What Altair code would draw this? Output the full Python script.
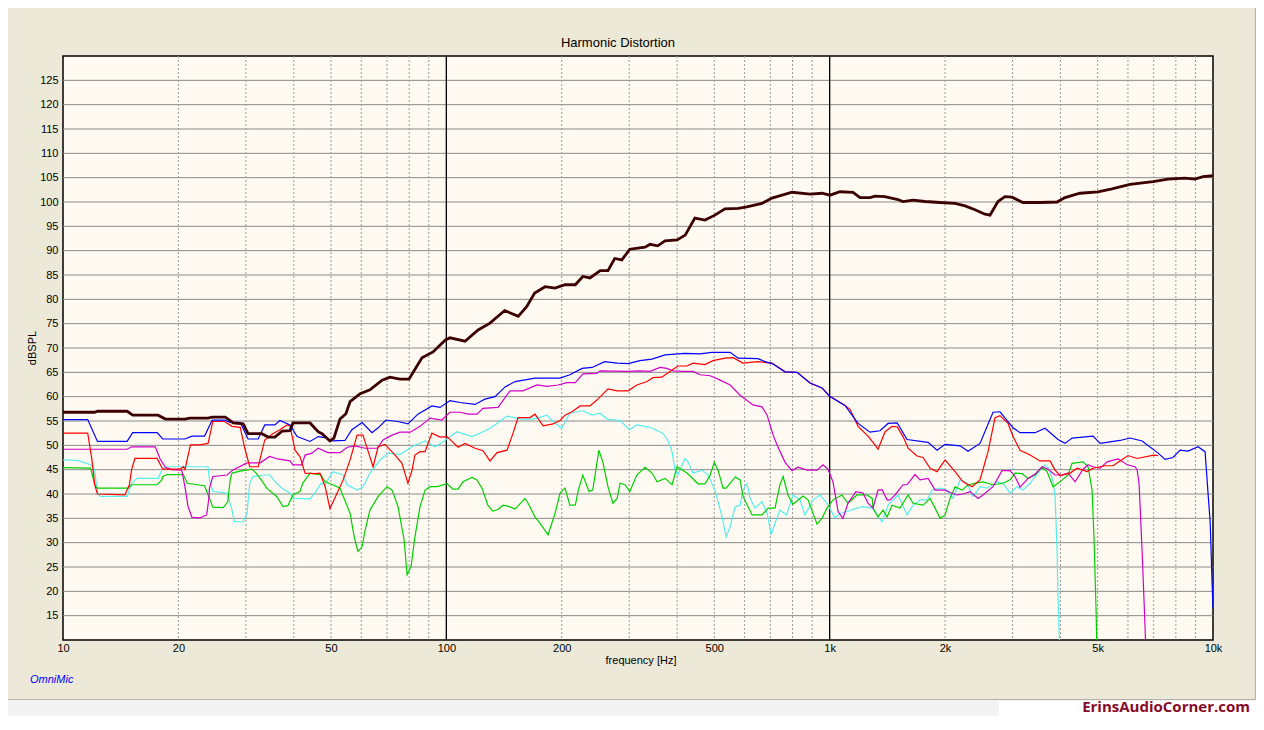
import altair as alt
import pandas as pd

# ---------------- data (frequency Hz, level dB SPL) ----------------
main_pts = [(10, 56.8), (12.1, 56.8), (12.3, 57.0), (14.7, 57.0), (15.2, 56.2), (17.7, 56.2), (18.5, 55.4),
            (20.8, 55.4), (21.4, 55.6), (23.9, 55.6), (24.5, 55.8), (26.5, 55.8), (27.8, 54.6), (29.5, 54.4),
            (30.4, 52.4), (33.0, 52.4), (34.3, 51.7), (35.7, 51.7), (37.3, 52.9), (39.1, 53.0), (39.8, 54.6),
            (44.1, 54.6), (46.3, 52.8), (47.4, 52.4), (49.7, 50.9), (50.9, 51.5), (52.8, 55.4), (54.7, 56.5),
            (56.1, 59.0), (59.6, 60.6), (63.2, 61.4), (68.0, 63.4), (71.3, 64.0), (75.7, 63.6), (79.9, 63.6),
            (86.4, 68.0), (92.3, 69.2), (99.3, 71.6), (102.2, 72.1), (111.9, 71.4), (121, 73.7), (130, 75.1),
            (142, 77.7), (154, 76.5), (162, 78.5), (170, 81.3), (181, 82.6), (192, 82.3), (204, 83.0),
            (217, 83.0), (227, 84.7), (237, 84.4), (252, 85.9), (264, 85.9), (275, 88.4), (287, 88.1),
            (301, 90.3), (330, 90.7), (340, 91.3), (356, 91.0), (372, 92.0), (400, 92.2), (420, 93.2),
            (445, 96.7), (473, 96.3), (502, 97.3), (533, 98.6), (577, 98.7), (608, 99.0), (666, 99.7),
            (707, 100.8), (798, 102.0), (889, 101.6), (955, 101.8), (1002, 101.4), (1064, 102.1), (1151, 102.0),
            (1200, 100.9), (1274, 100.9), (1313, 101.2), (1393, 101.1), (1507, 100.5), (1553, 100.1),
            (1650, 100.4), (1773, 100.1), (1941, 99.9), (2124, 99.7), (2255, 99.2), (2394, 98.4), (2542, 97.5),
            (2620, 97.3), (2748, 100.1), (2866, 101.1), (2990, 101.0), (3192, 99.9), (3536, 99.9), (3917, 100.0),
            (4110, 100.9), (4497, 101.8), (5012, 102.1), (5451, 102.7), (6075, 103.6), (6976, 104.2),
            (7632, 104.7), (8452, 104.9), (8974, 104.7), (9419, 105.2), (10000, 105.4)]

blue_pts = [(10, 55.3), (11.6, 55.3), (12.3, 50.8), (14.7, 50.8), (15.2, 52.6), (17.6, 52.6), (18.2, 51.3),
            (20.8, 51.3), (21.7, 51.9), (23.4, 51.9), (24.5, 55.2), (26.4, 55.2), (27.3, 54.7), (29.0, 54.7),
            (30.4, 51.3), (32.3, 51.3), (33.6, 54.2), (35.7, 54.2), (36.8, 55.1), (39.1, 54.2), (40.8, 51.8),
            (44.1, 50.8), (46.3, 51.8), (48.3, 51.6), (50.6, 50.9), (54.4, 51.0), (56.7, 53.2), (60.3, 54.7),
            (64.0, 52.6), (66.4, 53.6), (69.6, 55.2), (74.8, 54.9), (79.4, 54.4), (84.3, 56.4), (91.7, 58.1),
            (96.3, 57.8), (102.2, 59.2), (108.6, 58.8), (118.8, 58.4), (126.1, 59.5), (134, 60.0), (142.3, 62.0),
            (151.1, 63.1), (170.3, 63.8), (198, 63.8), (210, 64.5), (226, 65.8), (240, 66.0), (259, 67.2),
            (279, 66.9), (298, 66.8), (320, 67.4), (344, 67.7), (372, 68.6), (419, 68.9), (459, 68.8),
            (493, 69.1), (550, 69.1), (577, 67.9), (650, 67.8), (678, 67.2), (707.6, 66.8), (765, 65.1),
            (822, 65.0), (889, 62.8), (955, 61.8), (1000, 60.1), (1096, 58.2), (1186, 54.5), (1274, 52.7),
            (1353, 53.0), (1420, 54.5), (1500, 54.6), (1592, 51.2), (1806, 50.6), (1906, 49.0), (2000, 50.2),
            (2189, 49.9), (2296, 48.8), (2467, 50.4), (2668, 56.8), (2782, 56.9), (3009, 53.6), (3138, 52.6),
            (3434, 52.6), (3646, 53.5), (3942, 51.2), (4112, 50.4), (4289, 51.5), (4866, 51.9), (5076, 50.4),
            (5721, 51.0), (6076, 51.5), (6533, 50.9), (7192, 48.4), (7497, 47.1), (7866, 47.5), (8205, 49.0),
            (8609, 48.8), (9142, 49.7), (9535, 48.7), (9708, 40.1), (9835, 34.0), (9940, 22.3), (10000, 16.6)]

red_pts = [(10, 52.5), (11.6, 52.5), (11.9, 47.0), (12.1, 41.9), (12.3, 40.0), (14.5, 39.8), (14.9, 41.9),
           (15.1, 45.0), (15.4, 47.3), (17.6, 47.3), (18.2, 45.1), (20.2, 45.1), (20.6, 45.6), (20.8, 45.0),
           (21.5, 50.1), (22.8, 50.1), (23.9, 50.4), (24.6, 54.9), (26.4, 54.9), (27.6, 53.9), (29.0, 53.7),
           (29.8, 49.4), (30.7, 45.6), (32.3, 45.6), (33.6, 51.1), (35.1, 52.3), (36.8, 53.2), (38.4, 54.2),
           (39.1, 54.0), (40.3, 49.0), (41.5, 47.7), (42.8, 44.3), (45.4, 44.2), (46.8, 44.3), (48.3, 41.5),
           (49.7, 37.0), (51.9, 40.2), (53.8, 42.9), (56.1, 47.0), (58.5, 52.1), (60.6, 52.1), (62.5, 48.8),
           (64.4, 45.6), (66.4, 49.7), (69.2, 50.2), (73.5, 48.0), (76.6, 46.3), (79.4, 42.2), (81.4, 44.9),
           (82.8, 48.0), (85.4, 48.7), (88.0, 48.7), (91.7, 52.5), (96.3, 51.7), (100.4, 51.8), (103.5, 50.8),
           (107.3, 49.6), (111.9, 50.4), (118.8, 49.4), (124.6, 48.9), (130, 46.8), (135.6, 48.5), (144, 49.0),
           (149.3, 52.5), (153.8, 55.7), (165.3, 55.7), (170.3, 56.4), (178.8, 54.0), (189.8, 54.4), (198, 55.1),
           (204, 56.2), (212.8, 56.9), (223.3, 58.1), (237, 58.1), (247, 59.3), (264, 61.6), (279, 61.2),
           (298, 61.2), (314, 62.4), (334, 63.1), (346, 63.9), (365, 64.0), (388, 65.5), (402, 66.3),
           (424.5, 66.3), (440, 66.9), (473, 66.6), (496, 67.4), (533.5, 67.9), (560, 68.0), (594, 66.9),
           (650, 67.2), (707.6, 66.9), (765, 65.1), (822, 65.0), (889, 62.8), (955, 61.8), (1000, 60.1),
           (1096, 58.2), (1130, 57.4), (1186, 53.9), (1259, 51.9), (1313, 50.1), (1337, 49.2), (1395, 52.8),
           (1455, 53.9), (1500, 53.8), (1554, 51.8), (1602, 49.4), (1690, 47.8), (1753, 47.5), (1828, 45.3),
           (1906, 44.6), (2000, 47.0), (2124, 44.6), (2228, 42.5), (2351, 41.5), (2467, 42.9), (2589, 48.7),
           (2700, 55.7), (2782, 56.1), (2920, 54.5), (3009, 51.8), (3138, 49.0), (3333, 48.0), (3538, 46.8),
           (3758, 46.8), (3872, 44.9), (3990, 43.8), (4238, 44.3), (4420, 45.3), (4695, 44.6), (4866, 45.3),
           (5230, 45.8), (5488, 45.8), (5721, 46.8), (6000, 47.9), (6337, 47.3), (7000, 48.0), (7192, 47.9)]

magenta_pts = [(10, 49.2), (14.7, 49.2), (15.1, 49.7), (17.4, 49.7), (17.9, 47.3), (18.5, 45.5), (19.2, 45.0),
               (20.4, 44.9), (20.8, 41.5), (21.2, 37.4), (21.7, 35.2), (22.8, 35.1), (23.7, 35.7), (24.0, 38.9),
               (24.1, 41.2), (24.6, 43.6), (26.8, 43.9), (27.7, 44.9), (30.2, 46.4), (32.7, 46.4), (34.6, 47.7),
               (36.3, 47.2), (39.1, 46.8), (39.8, 46.0), (42.0, 46.0), (42.8, 48.0), (44.6, 48.4), (46.3, 49.4),
               (49.1, 48.5), (52.8, 48.5), (55.2, 49.6), (57.8, 49.9), (61.4, 49.4), (66.0, 49.4), (68.4, 51.1),
               (72.2, 52.1), (75.7, 52.7), (80.5, 52.7), (85.4, 53.9), (90.7, 55.6), (97.4, 55.2), (102.2, 56.8),
               (108.6, 56.8), (114, 56.4), (120.2, 56.4), (124.6, 57.6), (136.4, 57.8), (146.6, 61.2),
               (158.5, 61.2), (172.4, 62.4), (183.1, 62.1), (195.6, 62.4), (206.5, 62.9), (217, 62.9),
               (227.3, 64.7), (247, 64.8), (252, 65.3), (296, 65.2), (320, 65.3), (340, 65.2), (361, 66.0),
               (376, 65.8), (390, 65.3), (414.5, 65.2), (440, 65.2), (459, 64.5), (488, 64.3), (518, 63.4),
               (550, 62.4), (584, 60.3), (631, 58.3), (666, 57.9), (687, 56.2), (712, 52.1), (729.6, 50.0),
               (765, 46.5), (797.6, 44.8), (827, 45.5), (873, 44.9), (927, 44.9), (960.5, 46.0), (990, 45.1),
               (1020, 42.5), (1052, 36.4), (1083, 35.0), (1116, 38.1), (1171, 40.5), (1222, 40.2), (1259, 38.1),
               (1297, 37.1), (1337, 40.8), (1370, 40.9), (1412, 38.8), (1437, 38.8), (1481, 39.8), (1554, 41.9),
               (1592, 41.9), (1670, 44.0), (1721, 42.9), (1806, 43.2), (1884, 40.8), (2000, 40.8), (2061, 40.3),
               (2150, 39.8), (2228, 40.0), (2324, 40.5), (2438, 39.1), (2512, 39.8), (2668, 41.5), (2816, 44.8),
               (2955, 44.8), (3045, 43.6), (3138, 41.4), (3293, 43.2), (3434, 44.1), (3582, 45.6), (3713, 45.1),
               (3872, 43.9), (4039, 43.9), (4187, 44.3), (4367, 42.5), (4582, 45.1), (4722, 46.0), (4866, 45.6),
               (5076, 45.3), (5295, 46.6), (5656, 47.2), (5826, 46.6), (5970, 46.0), (6262, 45.6), (6338, 45.0),
               (6414, 42.2), (6533, 28.2), (6651, 12.4), (6692, 6.0)]

cyan_pts = [(10, 47.0), (10.9, 46.9), (11.8, 46.0), (12.1, 45.0), (12.3, 40.2), (12.5, 39.5), (14.7, 39.5),
            (15.1, 42.2), (15.6, 43.2), (17.7, 43.2), (18.2, 45.3), (18.8, 45.6), (23.9, 45.6), (24.1, 43.0),
            (24.6, 40.5), (26.8, 40.2), (27.6, 36.7), (28.0, 34.3), (29.5, 34.3), (30.2, 36.0), (30.7, 42.2),
            (31.3, 43.6), (33.3, 43.9), (34.6, 43.9), (36.1, 42.2), (37.5, 41.0), (39.1, 40.2), (39.8, 39.1),
            (44.1, 39.0), (45.4, 40.2), (47.1, 42.2), (48.3, 42.0), (50.6, 44.6), (53.8, 43.9), (55.1, 41.9),
            (58.5, 40.8), (60.6, 41.5), (63.2, 44.3), (67.2, 47.0), (70.5, 48.4), (75.7, 48.1), (81.4, 49.7),
            (88.0, 50.9), (93.4, 49.7), (98.0, 50.7), (106.6, 52.8), (116.7, 51.8), (122.4, 52.5), (130, 53.5),
            (138, 54.9), (144, 56.0), (157.5, 55.4), (168.7, 55.4), (183.1, 56.2), (189.8, 54.9), (200, 53.5),
            (210, 56.6), (227, 57.1), (240, 56.2), (252, 56.6), (262.5, 55.4), (284, 55.1), (301, 53.2),
            (314, 54.2), (340, 53.7), (367, 52.5), (378, 51.1), (388, 48.7), (395, 44.9), (402, 43.9),
            (419, 47.3), (427, 46.6), (440, 44.3), (464.5, 44.9), (482, 43.9), (502, 40.8), (524, 35.3),
            (537, 31.2), (550, 33.3), (567, 37.4), (584, 37.7), (594, 40.8), (609, 42.2), (620, 39.1),
            (639, 37.1), (666, 38.4), (687, 36.0), (704, 31.6), (720, 34.0), (742, 36.7), (772, 35.7),
            (802, 39.8), (836.8, 38.8), (862, 35.7), (905, 38.8), (944, 39.8), (984, 38.1), (1032, 35.1),
            (1064, 36.0), (1110, 36.4), (1178, 37.1), (1222, 37.4), (1292, 37.1), (1370, 34.3), (1420, 37.7),
            (1508, 39.8), (1592, 35.7), (1650, 37.7), (1721, 38.8), (1796, 38.8), (1851, 40.8), (1941, 41.2),
            (2024, 40.8), (2098, 39.1), (2189, 42.9), (2282, 42.2), (2367, 39.5), (2467, 41.5), (2574, 41.2),
            (2733, 42.5), (2833, 42.2), (2955, 40.2), (3082, 41.5), (3192, 40.8), (3333, 42.2), (3538, 44.9),
            (3646, 46.0), (3758, 44.9), (3827, 42.5), (3872, 39.5), (3917, 29.2), (3941, 19.6), (3990, 6.0)]

green_pts = [(10, 45.4), (11.8, 45.3), (12.1, 41.9), (12.3, 41.2), (14.8, 41.2), (15.1, 41.9), (17.6, 41.9),
             (18.1, 42.9), (18.2, 43.6), (18.7, 44.0), (20.6, 44.0), (21.1, 42.2), (22.4, 41.9), (23.4, 41.7),
             (24.0, 39.5), (24.6, 37.3), (26.2, 37.2), (26.9, 38.4), (27.3, 42.9), (27.6, 44.3), (29.0, 44.7),
             (31.1, 45.1), (31.9, 44.3), (32.9, 42.9), (34.0, 41.2), (36.1, 39.5), (37.5, 37.4), (38.6, 37.6),
             (39.8, 39.8), (41.5, 40.5), (42.2, 42.2), (44.1, 44.3), (47.1, 43.9), (48.3, 42.5), (50.6, 41.9),
             (52.8, 41.2), (56.1, 36.0), (57.5, 31.2), (58.8, 28.2), (60.3, 29.2), (61.4, 32.6), (63.2, 36.7),
             (66.4, 39.5), (70.0, 41.5), (72.2, 40.8), (74.8, 37.4), (77.6, 30.6), (79.0, 23.4), (80.9, 25.1),
             (82.8, 31.2), (85.4, 37.4), (88.0, 40.8), (90.7, 41.5), (94.6, 41.5), (100.4, 42.1), (104.1, 41.0),
             (107.3, 41.0), (110.5, 42.5), (116.7, 43.4), (120.2, 42.9), (123.9, 41.2), (128.3, 37.7),
             (132.1, 36.5), (136.4, 36.8), (140.6, 37.7), (144.9, 37.5), (151.1, 36.9), (160.4, 39.1),
             (163.4, 38.1), (170.3, 35.3), (175.5, 34.0), (184.2, 31.6), (192.1, 36.0), (198, 40.2), (204, 41.2),
             (210, 37.7), (217, 37.7), (221, 40.8), (227, 43.9), (235.6, 40.5), (241, 40.8), (250, 49.0),
             (256, 46.6), (264, 41.5), (272, 38.1), (279, 39.1), (284, 42.2), (292.6, 41.9), (301, 40.5),
             (314, 43.9), (330, 45.5), (344, 44.3), (354.6, 42.5), (372, 43.2), (388, 41.9), (400, 45.6),
             (424.5, 44.3), (453.5, 42.1), (473, 42.1), (488, 43.9), (500, 46.5), (511.6, 44.9), (527, 41.2),
             (537, 41.2), (567, 43.5), (584, 42.9), (594, 39.5), (627.6, 35.7), (666, 35.7), (691, 37.1),
             (720, 37.1), (742, 41.9), (756, 43.6), (778.6, 39.8), (802, 37.9), (851.8, 39.6), (878, 38.8),
             (927, 33.8), (955, 35.0), (984, 37.1), (1020, 38.8), (1077, 39.8), (1116, 38.1), (1178, 39.8),
             (1251, 39.8), (1292, 39.1), (1297, 37.1), (1337, 35.3), (1378, 36.7), (1412, 35.3), (1455, 37.7),
             (1526, 37.1), (1602, 39.8), (1650, 38.1), (1753, 37.7), (1828, 39.1), (1884, 37.1), (1941, 35.0),
             (2000, 35.7), (2061, 39.1), (2124, 41.5), (2215, 40.8), (2296, 41.9), (2394, 42.2), (2512, 42.5),
             (2668, 41.9), (2833, 42.2), (2955, 42.9), (3045, 44.3), (3176, 44.2), (3293, 43.2), (3434, 43.9),
             (3582, 45.5), (3690, 44.6), (3827, 41.5), (3990, 42.5), (4187, 43.9), (4289, 46.3), (4582, 46.6),
             (4722, 45.6), (4837, 40.8), (4895, 30.6), (4954, 16.2), (4984, 6.0)]

series_names = ["2nd harmonic", "3rd harmonic", "4th harmonic", "5th harmonic", "6th harmonic", "Fundamental"]
series_pts = [blue_pts, red_pts, magenta_pts, green_pts, cyan_pts, main_pts]
series_colors = ["#0000FF", "#FF0000", "#D000C8", "#00D000", "#55EEEE", "#3C0000"]
draw_order = [4, 3, 2, 1, 0, 5]  # cyan, green, magenta, red, blue, fundamental on top

x_tick_values = [10, 20, 50, 100, 200, 500, 1000, 2000, 5000, 10000]
y_tick_values = [15, 20, 25, 30, 35, 40, 45, 50, 55, 60, 65, 70, 75, 80, 85, 90, 95, 100, 105, 110, 115, 120, 125]
minor_freqs = [20, 30, 40, 50, 60, 70, 80, 90, 200, 300, 400, 500, 600, 700, 800, 900,
               2000, 3000, 4000, 5000, 6000, 7000, 8000, 9000]
major_freqs = [100, 1000]

FONT = "Liberation Sans"

# ---------------- scales / axes ----------------
xscale = alt.Scale(type="log", domain=[10, 10000], nice=False)
yscale = alt.Scale(domain=[10, 130], nice=False, zero=False)
xaxis = alt.Axis(values=x_tick_values, title=None, grid=False, ticks=False, domain=False,
                 labelExpr="datum.value >= 1000 ? (datum.value / 1000) + 'k' : '' + datum.value",
                 labelFont=FONT, labelFontSize=11, labelColor="#000000", labelPadding=2,
                 labelFlush=False, labelOverlap=False)
yaxis = alt.Axis(values=y_tick_values, title=None, grid=False, ticks=False, domain=False,
                 labelFont=FONT, labelFontSize=11, labelColor="#000000", labelPadding=5)

X = alt.X("freq:Q", scale=xscale, axis=xaxis)
Y = alt.Y("db:Q", scale=yscale, axis=yaxis)

# ---------------- grid ----------------
hgrid = alt.Chart(pd.DataFrame({"db": y_tick_values})).mark_rule(
    color="#8A8A8A", strokeWidth=1).encode(y=Y)
vminor = alt.Chart(pd.DataFrame({"freq": minor_freqs})).mark_rule(
    color="#9A9A9A", strokeWidth=1, strokeDash=[2, 2]).encode(x=X)
vmajor = alt.Chart(pd.DataFrame({"freq": major_freqs})).mark_rule(
    color="#000000", strokeWidth=1.3).encode(x=X)

layers = [hgrid, vminor, vmajor]

# ---------------- curves ----------------
for i in draw_order:
    pts = series_pts[i]
    df = pd.DataFrame({"freq": [p[0] for p in pts], "db": [p[1] for p in pts],
                       "idx": list(range(len(pts))), "series": series_names[i]})
    width = 2.8 if series_names[i] == "Fundamental" else 1.2
    layers.append(alt.Chart(df).mark_line(color=series_colors[i], strokeWidth=width, clip=True,
                                          interpolate="linear").encode(
        x=X, y=Y, order=alt.Order("idx:Q")))

# ---------------- decorations ----------------
one = pd.DataFrame({"k": [0]})
band = alt.Chart(one).mark_rect(color="#F3F3F3").encode(
    x=alt.value(-55), x2=alt.value(1193), y=alt.value(644), y2=alt.value(660))
panel_bottom = alt.Chart(one).mark_rule(color="#B4B2A8", strokeWidth=1.2).encode(
    x=alt.value(-55), x2=alt.value(1192.5), y=alt.value(643.5))
panel_right = alt.Chart(one).mark_rule(color="#B4B2A8", strokeWidth=1.2).encode(
    x=alt.value(1192.5), y=alt.value(-48), y2=alt.value(643.5))
white_box = alt.Chart(one).mark_rect(color="#FFFFFF").encode(
    x=alt.value(936), x2=alt.value(1193), y=alt.value(645), y2=alt.value(660))


def label(txt, x, y, **kw):
    return alt.Chart(pd.DataFrame({"t": [txt]})).mark_text(**kw).encode(
        text="t:N", x=alt.value(x), y=alt.value(y))


title = label("Harmonic Distortion", 555, -13, font=FONT, fontSize=13, color="#000000")
xlabel = label("frequency [Hz]", 578, 605, font=FONT, fontSize=11, color="#000000")
ylabel = label("dBSPL", -30, 292, font=FONT, fontSize=11, color="#000000", angle=270)
omni = label("OmniMic", -33, 624, font=FONT, fontSize=11, color="#0000FF", fontStyle="italic",
             align="left")
brand = label("ErinsAudioCorner.com", 1187, 651, font="Open Sans", fontSize=15, fontWeight="bold",
              color="#870A27", align="right", baseline="middle")

layers += [band, panel_bottom, panel_right, white_box, title, xlabel, ylabel, omni, brand]

chart = alt.layer(*layers).properties(
    width=1150, height=584,
    padding={"left": 55, "top": 48, "right": 43, "bottom": 76},
    autosize=alt.AutoSizeParams(type="none"),
).configure(background="#ECE9D8").configure_view(
    fill="#FFFAF1", stroke="#000000", strokeWidth=1.5)

chart.save("out.html", embed_options={"renderer": "svg", "actions": False})
